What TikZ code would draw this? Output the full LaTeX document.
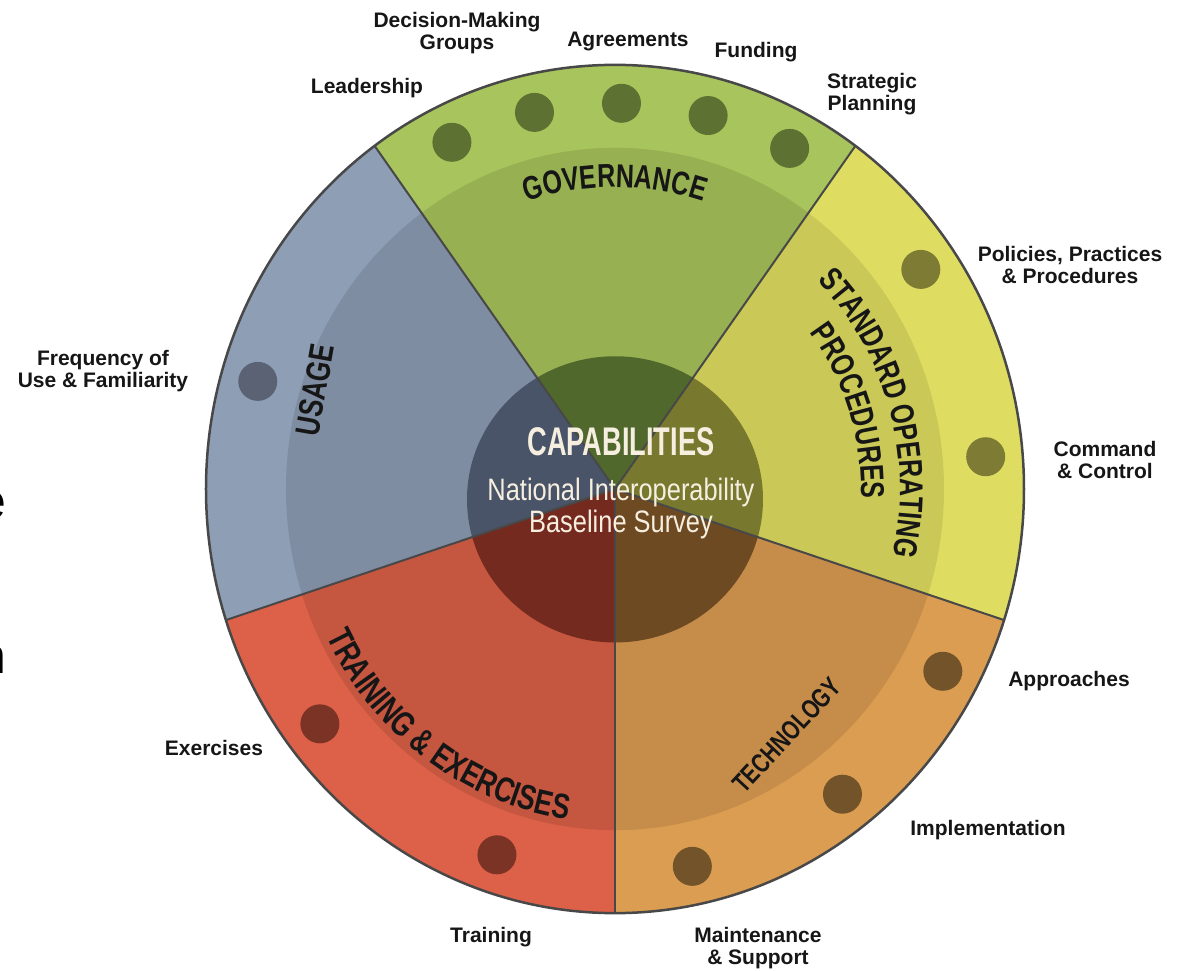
\documentclass[tikz,border=0pt]{standalone}
\usepackage{fontspec}
\setmainfont{Liberation Sans}
\newfontfamily\wheelfont{Liberation Sans}[FakeStretch=0.76]
\newfontfamily\corefont{Liberation Sans}[FakeStretch=0.68]
\newfontfamily\surveyfont{Liberation Sans}[FakeStretch=0.82]
\usetikzlibrary{decorations.text}

\definecolor{rimgray}{RGB}{72,72,72}
\definecolor{inkblack}{RGB}{22,22,22}
\definecolor{cream}{RGB}{246,239,224}
\definecolor{govOut}{RGB}{168,196,92}
\definecolor{govMid}{RGB}{150,176,82}
\definecolor{govIn}{RGB}{80,104,44}
\definecolor{govDot}{RGB}{92,113,50}
\definecolor{sopOut}{RGB}{222,221,98}
\definecolor{sopMid}{RGB}{202,200,86}
\definecolor{sopIn}{RGB}{120,120,46}
\definecolor{sopDot}{RGB}{125,123,52}
\definecolor{tecOut}{RGB}{218,157,82}
\definecolor{tecMid}{RGB}{198,140,74}
\definecolor{tecIn}{RGB}{110,74,34}
\definecolor{tecDot}{RGB}{115,83,42}
\definecolor{traOut}{RGB}{221,96,72}
\definecolor{traMid}{RGB}{197,86,64}
\definecolor{traIn}{RGB}{116,42,30}
\definecolor{traDot}{RGB}{122,51,37}
\definecolor{usaOut}{RGB}{142,159,181}
\definecolor{usaMid}{RGB}{126,141,162}
\definecolor{usaIn}{RGB}{74,84,104}
\definecolor{usaDot}{RGB}{90,98,115}

\tikzset{
rim/.style={draw=rimgray, line width=2.5pt},
spoke/.style={draw=rimgray, line width=2pt},
dot/.style={circle, minimum size=39pt, inner sep=0pt},
item/.style={align=center, inner sep=0pt, text=inkblack, font=\bfseries\fontsize{21}{22}\selectfont},
sector/.style={inner sep=0pt, text=inkblack, font=\bfseries\wheelfont\fontsize{34}{34}\selectfont},
core/.style={inner sep=0pt, text=cream}
}

\begin{document}
\begin{tikzpicture}[x=1pt, y=1pt]
\useasboundingbox (-615,-482) rectangle (574,489);

\begin{scope}[yscale=1.037]
\foreach \sa/\sk in {54/gov,-18/sop,-90/tec,-162/tra,126/usa}{
  \begin{scope}
    \clip (0,0) -- (\sa:409pt) arc[start angle=\sa, delta angle=72, radius=409pt] -- cycle;
    \fill[fill=\sk Out] (0,0) circle (409pt);
    \fill[fill=\sk Mid] (0,0) circle (329pt);
    \fill[fill=\sk In] (0,-10) ellipse [x radius=148pt, y radius=138pt];
  \end{scope}
}
\foreach \sa in {126,54,-18,-90,-162}
  \draw[spoke] (0,0) -- (\sa:409pt);
\draw[rim] (0,0) circle (409pt);

\node[dot, fill=govDot] (leadershipDot) at (116:372pt) {};
\node[dot, fill=govDot] (decisionDot) at (102.5:372pt) {};
\node[dot, fill=govDot] (agreementsDot) at (89:372pt) {};
\node[dot, fill=govDot] (fundingDot) at (75.5:372pt) {};
\node[dot, fill=govDot] (strategicDot) at (62:372pt) {};
\node[dot, fill=sopDot] (policiesDot) at (34.7:372pt) {};
\node[dot, fill=sopDot] (commandDot) at (4.8:372pt) {};
\node[dot, fill=tecDot] (approachesDot) at (-28.2:372pt) {};
\node[dot, fill=tecDot] (implementationDot) at (-52.3:372pt) {};
\node[dot, fill=tecDot] (maintenanceDot) at (-78:372pt) {};
\node[dot, fill=traDot] (trainingDot) at (-108.5:372pt) {};
\node[dot, fill=traDot] (exercisesDot) at (-142.5:372pt) {};
\node[dot, fill=usaDot] (frequencyDot) at (163.8:372pt) {};
\end{scope}

\path[decorate, decoration={text along path, text align=center,
  text={|\color{inkblack}\bfseries\wheelfont\fontsize{33}{33}\selectfont|GOVERNANCE}}]
  (112:291pt and 301.8pt) arc[start angle=112, end angle=68, x radius=291pt, y radius=301.8pt];
\path[decorate, decoration={text along path, text align=center,
  text={|\color{inkblack}\bfseries\wheelfont\fontsize{33}{33}\selectfont|STANDARD OPERATING}}]
  (56:285pt and 295.5pt) arc[start angle=56, end angle=-24, x radius=285pt, y radius=295.5pt];
\path[decorate, decoration={text along path, text align=center,
  text={|\color{inkblack}\bfseries\wheelfont\fontsize{33}{33}\selectfont|PROCEDURES}}]
  (58:246pt and 255.1pt) arc[start angle=58, end angle=-22, x radius=246pt, y radius=255.1pt];
\path[decorate, decoration={text along path, text align=center,
  text={|\color{inkblack}\bfseries\wheelfont\fontsize{35}{35}\selectfont|TRAINING {\&} EXERCISES}}]
  (199:322pt and 333.9pt) arc[start angle=199, end angle=269, x radius=322pt, y radius=333.9pt];

\node[sector, rotate=80] (usage) at (-300,99) {USAGE};
\node[sector, font=\bfseries\wheelfont\fontsize{27}{27}\selectfont, rotate=47] (technology) at (172,-246) {TECHNOLOGY};

\node[core, font=\bfseries\corefont\fontsize{40}{40}\selectfont] (capabilities) at (6,47) {CAPABILITIES};
\node[core, font=\surveyfont\fontsize{31}{31}\selectfont] (national) at (6,-3) {National Interoperability};
\node[core, font=\surveyfont\fontsize{31}{31}\selectfont] (baseline) at (6,-35) {Baseline Survey};

\node[item] (decisionLbl) at (-158,456) {Decision-Making\\Groups};
\node[item] (agreementsLbl) at (13,447) {Agreements};
\node[item] (fundingLbl) at (141,437) {Funding};
\node[item] (leadershipLbl) at (-248,401) {Leadership};
\node[item] (strategicLbl) at (257,395) {Strategic\\Planning};
\node[item] (policiesLbl) at (455,224) {Policies, Practices\\\& Procedures};
\node[item] (commandLbl) at (490,29) {Command\\\& Control};
\node[item] (approachesLbl) at (454,-192) {Approaches};
\node[item] (implementationLbl) at (373,-341) {Implementation};
\node[item] (maintenanceLbl) at (143,-459) {Maintenance\\\& Support};
\node[item] (trainingLbl) at (-124,-448) {Training};
\node[item] (exercisesLbl) at (-401,-259) {Exercises};
\node[item] (frequencyLbl) at (-512,118) {Frequency of\\Use \& Familiarity};

\node[anchor=east, inner sep=0pt, font=\fontsize{50}{50}\selectfont] (cutE) at (-608,-16) {e};
\node[anchor=east, inner sep=0pt, font=\fontsize{50}{50}\selectfont] (cutN) at (-608,-171) {n};
\end{tikzpicture}
\end{document}
